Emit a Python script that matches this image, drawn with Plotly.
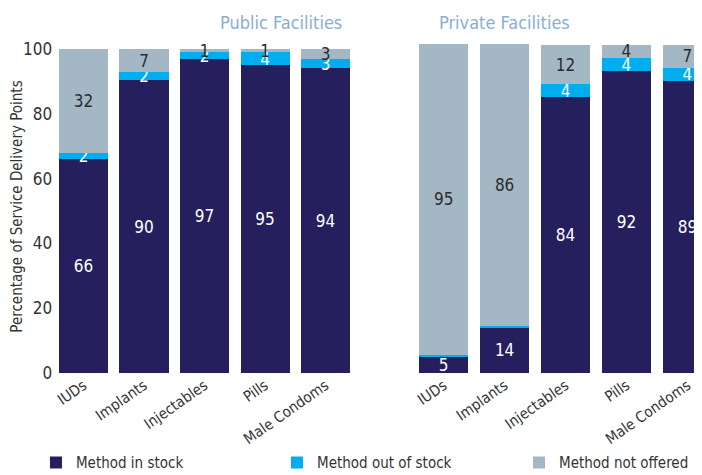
import plotly.graph_objects as go
from plotly.subplots import make_subplots

methods = ["IUDs", "Implants", "Injectables", "Pills", "Male Condoms"]

public_in_stock = [66, 90.4, 97, 95, 94]
public_out_of_stock = [2, 2.4, 2, 4, 3]
public_not_offered = [32, 7.2, 1, 1, 3]

private_in_stock = [5, 14, 84, 92, 89]
private_out_of_stock = [0.4, 0.3, 4, 4, 4]
private_not_offered = [95, 86, 12, 4, 7]

series_names = ["Method in stock", "Method out of stock", "Method not offered"]
colors = ["#251f5e", "#00aeef", "#a3b8c4"]
text_colors = ["white", "white", "#2b2b2b"]
legend_ids = ["legend", "legend2", "legend3"]

FONT = "Liberation Sans Narrow, DejaVu Sans Condensed, Arial Narrow, sans-serif"


def labels(vals, min_show=1):
    return [f"{v:.0f}" if v >= min_show else "" for v in vals]


fig = make_subplots(rows=1, cols=2)

panels = [
    (1, [public_in_stock, public_out_of_stock, public_not_offered]),
    (2, [private_in_stock, private_out_of_stock, private_not_offered]),
]
for col, series in panels:
    for i, vals in enumerate(series):
        fig.add_trace(go.Bar(
            x=methods, y=vals, name=series_names[i],
            marker=dict(color=colors[i], line=dict(width=0)),
            text=labels(vals), textposition="inside", insidetextanchor="middle",
            constraintext="none", textangle=0,
            textfont=dict(color=text_colors[i], size=17, family=FONT),
            showlegend=(col == 1), legend=legend_ids[i],
        ), row=1, col=col)

# one legend per entry so the spacing can follow the original
legend_style = dict(y=0.026, yanchor="middle", orientation="h",
                    bgcolor="rgba(0,0,0,0)", font=dict(size=15, color="#333333"))

# the page body adds an 8px margin, so the figure is 8px smaller than the window
fig.update_layout(
    width=694, height=467,
    barmode="stack", bargap=0.19,
    plot_bgcolor="white", paper_bgcolor="white",
    margin=dict(l=0, r=0, t=0, b=0, autoexpand=False),
    font=dict(family=FONT, size=16, color="#333333"),
    legend=dict(x=0.0403, **legend_style),
    legend2=dict(x=0.3876, **legend_style),
    legend3=dict(x=0.7363, **legend_style),
    annotations=[
        dict(text="Public Facilities", x=0.3026, y=0.970, xref="paper", yref="paper",
             yanchor="middle", showarrow=False,
             font=dict(size=18, color="#8aaed1", family=FONT)),
        dict(text="Private Facilities", x=0.8127, y=0.970, xref="paper", yref="paper",
             yanchor="middle", showarrow=False,
             font=dict(size=18, color="#8aaed1", family=FONT)),
    ],
)

fig.update_xaxes(showline=False, showgrid=False, ticks="", tickangle=-35,
                 automargin=False, tickfont=dict(size=15, color="#333333"))
fig.update_xaxes(domain=[0.0652, 0.5011], range=[-0.5, 4.5], row=1, col=1)
fig.update_xaxes(domain=[0.5839, 1.0], range=[-0.5, 4.24], row=1, col=2)

fig.update_yaxes(domain=[0.2184, 0.9315], showgrid=False, zeroline=False,
                 showline=False, ticks="", automargin=False)
fig.update_yaxes(range=[0, 102.8], tickvals=[0, 20, 40, 60, 80, 100],
                 tickfont=dict(size=17, color="#333333"),
                 title=dict(text="Percentage of Service Delivery Points",
                            font=dict(size=15, color="#333333"), standoff=4),
                 row=1, col=1)
fig.update_yaxes(range=[0, 101.5], showticklabels=False, row=1, col=2)

fig.write_html("out.html")
